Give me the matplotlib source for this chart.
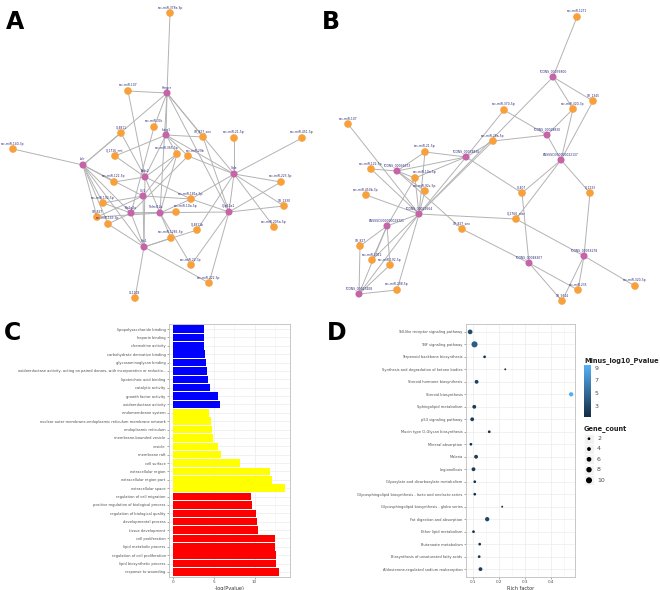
import matplotlib
matplotlib.use("Agg")
import matplotlib.pyplot as plt
import numpy as np
from matplotlib.colors import LinearSegmentedColormap, Normalize
from matplotlib.cm import ScalarMappable

# ---------------- network A (layout x, y, kind: m = miRNA/lncRNA, g = gene) ----------------
A_nodes = [
    ("ssc-miR-378a-3p", 170, 13, "m"), ("ssc-miR-107", 128, 91, "m"), ("Hmgcr", 167, 93, "g"),
    ("ssc-miR-30c", 154, 127, "m"), ("X_4811", 121, 133, "m"), ("Insig1", 166, 135, "g"),
    ("XR_827_sex", 203, 137, "m"), ("ssc-miR-21-5p", 234, 138, "m"), ("ssc-miR-451-5p", 302, 138, "m"),
    ("ssc-miR-140-3p", 13, 149, "m"), ("X_1716_nnt", 115, 156, "m"), ("ssc-miR-365-5p", 177, 154, "m"),
    ("ssc-miR-29b", 188, 156, "m"), ("Ldlr", 83, 165, "g"), ("Sqle", 234, 174, "g"),
    ("Fads2", 145, 177, "g"), ("ssc-miR-122-5p", 114, 182, "m"), ("ssc-miR-223-3p", 281, 182, "m"),
    ("Ccl2", 143, 196, "g"), ("ssc-miR-181a-5p", 191, 199, "m"), ("ssc-miR-192-5p", 103, 203, "m"),
    ("XR_1330", 284, 206, "m"), ("Pla2g2a", 131, 213, "g"), ("Tnfrsf12a", 160, 213, "g"),
    ("ssc-miR-10a-5p", 176, 212, "m"), ("Cyp51a1", 229, 212, "g"), ("XR_827", 97, 217, "m"),
    ("ssc-miR-143-3p", 108, 224, "m"), ("X_4811b", 197, 230, "m"), ("ssc-miR-205a-5p", 274, 227, "m"),
    ("ssc-miR-1285-5p", 171, 238, "m"), ("Stc1", 144, 247, "g"), ("ssc-miR-22-3p", 191, 265, "m"),
    ("ssc-miR-222-3p", 209, 283, "m"), ("XL1108", 135, 298, "m"),
]
A_edges = [
    ("ssc-miR-378a-3p", "Hmgcr"), ("ssc-miR-107", "Hmgcr"), ("ssc-miR-107", "Fads2"),
    ("Hmgcr", "ssc-miR-30c"), ("Hmgcr", "Insig1"), ("Hmgcr", "XR_827_sex"), ("Hmgcr", "Sqle"),
    ("Hmgcr", "Ldlr"), ("Hmgcr", "Tnfrsf12a"), ("Hmgcr", "Cyp51a1"), ("ssc-miR-140-3p", "Ldlr"),
    ("Ldlr", "X_4811"), ("Ldlr", "ssc-miR-122-5p"), ("Ldlr", "Ccl2"), ("Ldlr", "Stc1"),
    ("Ldlr", "XR_827"), ("Ldlr", "ssc-miR-143-3p"), ("Ldlr", "ssc-miR-192-5p"), ("Ldlr", "Pla2g2a"),
    ("Insig1", "XR_827_sex"), ("Insig1", "Sqle"), ("Insig1", "X_1716_nnt"), ("Insig1", "ssc-miR-365-5p"),
    ("Insig1", "ssc-miR-29b"), ("Insig1", "Fads2"), ("Sqle", "ssc-miR-451-5p"), ("Sqle", "ssc-miR-21-5p"),
    ("Sqle", "ssc-miR-223-3p"), ("Sqle", "XR_1330"), ("Sqle", "ssc-miR-205a-5p"), ("Sqle", "Cyp51a1"),
    ("Sqle", "X_4811b"), ("Sqle", "ssc-miR-29b"), ("Sqle", "ssc-miR-181a-5p"),
    ("Cyp51a1", "ssc-miR-223-3p"), ("Cyp51a1", "ssc-miR-22-3p"), ("Cyp51a1", "ssc-miR-222-3p"),
    ("Cyp51a1", "ssc-miR-181a-5p"), ("Cyp51a1", "XR_827_sex"), ("Cyp51a1", "Pla2g2a"),
    ("Cyp51a1", "XR_1330"), ("Fads2", "ssc-miR-122-5p"), ("Fads2", "X_1716_nnt"),
    ("Fads2", "ssc-miR-181a-5p"), ("Fads2", "Stc1"), ("Fads2", "Tnfrsf12a"), ("Fads2", "ssc-miR-365-5p"),
    ("Fads2", "X_4811"), ("Ccl2", "ssc-miR-192-5p"), ("Ccl2", "ssc-miR-365-5p"),
    ("Ccl2", "ssc-miR-181a-5p"), ("Ccl2", "XR_827"), ("Ccl2", "Stc1"), ("Pla2g2a", "ssc-miR-192-5p"),
    ("Pla2g2a", "ssc-miR-143-3p"), ("Pla2g2a", "ssc-miR-29b"), ("Pla2g2a", "ssc-miR-10a-5p"),
    ("Pla2g2a", "Stc1"), ("Pla2g2a", "ssc-miR-30c"), ("Tnfrsf12a", "ssc-miR-181a-5p"),
    ("Tnfrsf12a", "ssc-miR-10a-5p"), ("Tnfrsf12a", "ssc-miR-1285-5p"), ("Tnfrsf12a", "ssc-miR-365-5p"),
    ("Tnfrsf12a", "XR_827"), ("Tnfrsf12a", "ssc-miR-22-3p"), ("Stc1", "XL1108"),
    ("Stc1", "ssc-miR-1285-5p"), ("Stc1", "ssc-miR-222-3p"), ("Stc1", "ssc-miR-143-3p"), ("Stc1", "X_4811b"),
]

# ---------------- network B ----------------
B_nodes = [
    ("ssc-miR-1271", 577, 17, "m"), ("TCONS_00076800", 553, 77, "g"), ("XR_1345", 593, 101, "m"),
    ("ssc-miR-370-5p", 504, 110, "m"), ("ssc-miR-320-3p", 573, 109, "m"), ("ssc-miR-107", 348, 124, "m"),
    ("TCONS_00028830", 547, 135, "g"), ("ssc-miR-28a-5p", 493, 141, "m"),
    ("ENSSSCG00000022137", 561, 160, "g"), ("ssc-miR-21-5p", 425, 152, "m"),
    ("TCONS_00074830", 466, 157, "g"), ("ssc-miR-122-5p", 371, 169, "m"), ("TCONS_00036673", 397, 171, "g"),
    ("ssc-miR-10a-5p", 415, 178, "m"), ("ssc-miR-92c-5p", 425, 191, "m"), ("ssc-miR-450b-3p", 366, 195, "m"),
    ("X_407", 522, 193, "m"), ("X_1233", 590, 193, "m"), ("TCONS_00021664", 419, 214, "g"),
    ("X_2760_nter", 516, 219, "m"), ("ENSSSCG00000029721", 387, 226, "g"), ("XR_827_sex", 462, 229, "m"),
    ("XR_827", 360, 246, "m"), ("TCONS_00056278", 584, 256, "g"), ("TCONS_00048307", 529, 263, "g"),
    ("ssc-miR-1912", 372, 260, "m"), ("ssc-miR-192-5p", 390, 265, "m"), ("ssc-miR-320-5p", 635, 286, "m"),
    ("ssc-miR-235", 578, 290, "m"), ("TCONS_00027408", 359, 294, "g"), ("ssc-miR-208-5p", 397, 290, "m"),
    ("XR_9314", 562, 301, "m"),
]
B_edges = [
    ("ssc-miR-1271", "TCONS_00076800"), ("TCONS_00076800", "XR_1345"), ("TCONS_00076800", "ssc-miR-320-3p"),
    ("TCONS_00076800", "TCONS_00021664"), ("ssc-miR-370-5p", "TCONS_00028830"),
    ("ssc-miR-370-5p", "TCONS_00074830"), ("ssc-miR-320-3p", "TCONS_00028830"),
    ("ssc-miR-320-3p", "ENSSSCG00000022137"), ("XR_1345", "ENSSSCG00000022137"),
    ("TCONS_00028830", "ssc-miR-28a-5p"), ("TCONS_00028830", "ENSSSCG00000022137"),
    ("ssc-miR-28a-5p", "TCONS_00074830"), ("ssc-miR-28a-5p", "TCONS_00021664"),
    ("ENSSSCG00000022137", "X_407"), ("ENSSSCG00000022137", "X_1233"),
    ("ENSSSCG00000022137", "X_2760_nter"), ("ssc-miR-107", "TCONS_00021664"),
    ("ssc-miR-21-5p", "TCONS_00074830"), ("ssc-miR-21-5p", "TCONS_00036673"),
    ("ssc-miR-21-5p", "TCONS_00021664"), ("TCONS_00074830", "X_407"),
    ("TCONS_00074830", "TCONS_00036673"), ("TCONS_00074830", "TCONS_00021664"),
    ("TCONS_00074830", "ssc-miR-10a-5p"), ("ssc-miR-122-5p", "TCONS_00036673"),
    ("ssc-miR-122-5p", "TCONS_00021664"), ("TCONS_00036673", "ssc-miR-10a-5p"),
    ("TCONS_00036673", "ssc-miR-92c-5p"), ("TCONS_00036673", "XR_827_sex"),
    ("ssc-miR-450b-3p", "TCONS_00021664"), ("TCONS_00021664", "X_2760_nter"),
    ("TCONS_00021664", "ENSSSCG00000029721"), ("TCONS_00021664", "ssc-miR-1912"),
    ("TCONS_00021664", "ssc-miR-208-5p"), ("TCONS_00021664", "TCONS_00027408"),
    ("TCONS_00021664", "ssc-miR-92c-5p"), ("TCONS_00021664", "ssc-miR-10a-5p"),
    ("X_407", "TCONS_00048307"), ("X_2760_nter", "TCONS_00056278"), ("X_1233", "TCONS_00056278"),
    ("XR_827_sex", "TCONS_00048307"), ("TCONS_00056278", "ssc-miR-320-5p"),
    ("TCONS_00056278", "ssc-miR-235"), ("TCONS_00056278", "XR_9314"),
    ("TCONS_00048307", "ssc-miR-235"), ("TCONS_00048307", "XR_9314"),
    ("ENSSSCG00000029721", "XR_827"), ("ENSSSCG00000029721", "ssc-miR-1912"),
    ("ENSSSCG00000029721", "ssc-miR-192-5p"), ("ENSSSCG00000029721", "TCONS_00027408"),
    ("ENSSSCG00000029721", "ssc-miR-10a-5p"), ("TCONS_00027408", "XR_827"),
    ("TCONS_00027408", "ssc-miR-208-5p"), ("TCONS_00027408", "ssc-miR-192-5p"),
]
# labels that sit to one side instead of centred (they crowd each other)
label_side = {"ssc-miR-365-5p": "right", "ssc-miR-29b": "left",
              "Tnfrsf12a": "right", "ssc-miR-10a-5p": "left"}

# ---------------- panel C: GO enrichment ----------------
go_terms = [
    "lipopolysaccharide binding", "heparin binding", "chemokine activity",
    "carbohydrate derivative binding", "glycosaminoglycan binding",
    "oxidoreductase activity, acting on paired donors, with incorporation or reductio...",
    "lipoteichoic acid binding", "catalytic activity", "growth factor activity",
    "oxidoreductase activity",
    "endomembrane system", "nuclear outer membrane-endoplasmic reticulum membrane network",
    "endoplasmic reticulum", "membrane-bounded vesicle", "vesicle", "membrane raft",
    "cell surface", "extracellular region", "extracellular region part", "extracellular space",
    "regulation of cell migration", "positive regulation of biological process",
    "regulation of biological quality", "developmental process", "tissue development",
    "cell proliferation", "lipid metabolic process", "regulation of cell proliferation",
    "lipid biosynthetic process", "response to wounding",
]
go_logp = [3.82, 3.82, 3.85, 3.97, 4.0, 4.22, 4.34, 4.55, 5.57, 5.7,
           4.47, 4.67, 4.76, 4.92, 5.5, 5.92, 8.26, 11.87, 12.2, 13.7,
           9.6, 9.7, 10.2, 10.25, 10.4, 12.5, 12.5, 12.6, 12.65, 12.95]
go_class = ["MF"] * 10 + ["CC"] * 10 + ["BP"] * 10
class_colors = {"MF": "#0000FF", "CC": "#FFFF00", "BP": "#FF0000"}

# ---------------- panel D: KEGG dot plot ----------------
kegg_terms = [
    "Toll-like receptor signaling pathway", "TNF signaling pathway",
    "Terpenoid backbone biosynthesis", "Synthesis and degradation of ketone bodies",
    "Steroid hormone biosynthesis", "Steroid biosynthesis", "Sphingolipid metabolism",
    "p53 signaling pathway", "Mucin type O-Glycan biosynthesis", "Mineral absorption",
    "Malaria", "Legionellosis", "Glyoxylate and dicarboxylate metabolism",
    "Glycosphingolipid biosynthesis - lacto and neolacto series",
    "Glycosphingolipid biosynthesis - globo series", "Fat digestion and absorption",
    "Ether lipid metabolism", "Butanoate metabolism",
    "Biosynthesis of unsaturated fatty acids", "Aldosterone-regulated sodium reabsorption",
]
rich_factor = [0.088, 0.105, 0.144, 0.224, 0.113, 0.479, 0.104, 0.096, 0.162, 0.091,
               0.111, 0.101, 0.106, 0.106, 0.212, 0.154, 0.101, 0.125, 0.123, 0.128]
minus_log10_p = [3.2, 4.3, 1.8, 1.5, 2.6, 9.2, 2.3, 2.4, 1.7, 1.6,
                 2.4, 2.3, 1.6, 1.6, 1.5, 2.9, 1.7, 1.7, 1.8, 2.5]
gene_count = [6, 10, 2, 1, 4, 5, 4, 4, 2, 2, 4, 4, 2, 2, 1, 5, 2, 2, 2, 4]
legend_counts = [2, 4, 6, 8, 10]
cbar_ticks = [3, 5, 7, 9]


def dot_size(c):
    return 1.9 * np.asarray(c, dtype=float)


W, H = 660, 590
fig = plt.figure(figsize=(6.6, 5.9), dpi=100)
bg = fig.add_axes([0, 0, 1, 1])
bg.set_xlim(0, W)
bg.set_ylim(H, 0)
bg.axis("off")

ORANGE = "#F7A03C"
PINK = "#C565A7"


def draw_network(ax, nodes, edges):
    pos = {n: (x, y) for n, x, y, k in nodes}
    for a, b in edges:
        (x1, y1), (x2, y2) = pos[a], pos[b]
        ax.plot([x1, x2], [y1, y2], color="#b3b3b3", lw=0.7, zorder=1)
    for n, x, y, k in nodes:
        ax.scatter([x], [y], s=30 if k == "m" else 26, color=ORANGE if k == "m" else PINK,
                   edgecolors="none", zorder=3)
        side = label_side.get(n, "center")
        if side == "left":
            tx, ha = x - 2, "left"
        elif side == "right":
            tx, ha = x + 2, "right"
        else:
            tx, ha = x, "center"
        ax.text(tx, y - 3.5, n, fontsize=2.2, color="#2a2a7a", ha=ha, va="bottom", zorder=4)


draw_network(bg, A_nodes, A_edges)
draw_network(bg, B_nodes, B_edges)

for lab, x, y in [("A", 6, 22), ("B", 322, 22), ("C", 4, 333), ("D", 327, 333)]:
    bg.text(x, y, lab, fontsize=17, fontweight="bold", va="center", ha="left")


def px_axes(left, top, right, bottom):
    return fig.add_axes([left / W, 1 - bottom / H, (right - left) / W, (bottom - top) / H])


def gg_style(ax):
    ax.set_facecolor("white")
    for s in ax.spines.values():
        s.set_color("#bfbfbf")
        s.set_linewidth(0.6)
    ax.tick_params(length=1.5, width=0.4, color="#666666", labelcolor="#4d4d4d", pad=1)
    ax.grid(True, which="major", color="#ebebeb", lw=0.5)
    ax.grid(True, which="minor", axis="x", color="#f4f4f4", lw=0.4)
    ax.set_axisbelow(True)


# ---- panel C ----
axc = px_axes(169, 324, 290, 577)
n = len(go_terms)
ypos = np.arange(n, 0, -1)
axc.barh(ypos, go_logp, height=0.9, color=[class_colors[c] for c in go_class], zorder=2)
axc.set_yticks(ypos)
axc.set_yticklabels(go_terms, fontsize=2.6)
axc.set_ylim(0.4, n + 0.6)
axc.set_xlim(-0.5, 14.35)
axc.set_xticks([0, 5, 10])
axc.set_xticks([2.5, 7.5, 12.5], minor=True)
axc.tick_params(axis="x", which="minor", length=0)
axc.tick_params(axis="x", labelsize=3)
axc.set_xlabel("-log(Pvalue)", fontsize=3.6, labelpad=1, color="#333333")
gg_style(axc)

# ---- panel D ----
axd = px_axes(466, 324, 575, 577)
m = len(kegg_terms)
ypos_d = np.arange(m, 0, -1)
cmap = LinearSegmentedColormap.from_list("gg", ["#132B43", "#56B1F7"])
norm = Normalize(vmin=1.3, vmax=9.4)
axd.scatter(rich_factor, ypos_d, s=dot_size(gene_count), c=minus_log10_p, cmap=cmap, norm=norm,
            edgecolors="none", zorder=3)
axd.set_yticks(ypos_d)
axd.set_yticklabels(kegg_terms, fontsize=2.6)
axd.set_ylim(0.37, m + 0.63)
axd.set_xlim(0.072, 0.494)
axd.set_xticks([0.1, 0.2, 0.3, 0.4])
axd.set_xticklabels(["0.1", "0.2", "0.3", "0.4"])
axd.set_xticks([0.15, 0.25, 0.35, 0.45], minor=True)
axd.tick_params(axis="x", which="minor", length=0)
axd.tick_params(axis="x", labelsize=3)
axd.set_xlabel("Rich factor", fontsize=3.6, labelpad=1, color="#333333")
gg_style(axd)

# colourbar legend
cax = px_axes(584, 365, 591, 417)
cb = fig.colorbar(ScalarMappable(norm=norm, cmap=cmap), cax=cax, ticks=cbar_ticks)
cb.outline.set_visible(False)
cb.ax.tick_params(labelsize=4.5, length=1.5, width=0.4, color="white", labelcolor="#4d4d4d", pad=1)
bg.text(584, 361, "Minus_log10_Pvalue", fontsize=4.8, fontweight="bold", color="#222222",
        ha="left", va="center")

# size legend
bg.text(584, 429, "Gene_count", fontsize=4.8, fontweight="bold", color="#222222", ha="left", va="center")
key_y = [438.7, 449.0, 459.3, 469.7, 480.3]
for cnt, ky in zip(legend_counts, key_y):
    bg.add_patch(plt.Rectangle((584, ky - 5.1), 10, 10.2, facecolor="#f2f2f2", edgecolor="white",
                               lw=0.5, zorder=2))
    bg.scatter([589], [ky], s=dot_size(cnt), color="black", edgecolors="none", zorder=3)
    bg.text(597, ky, str(cnt), fontsize=4.5, color="#4d4d4d", ha="left", va="center")

fig.savefig("out.png", dpi=100)
